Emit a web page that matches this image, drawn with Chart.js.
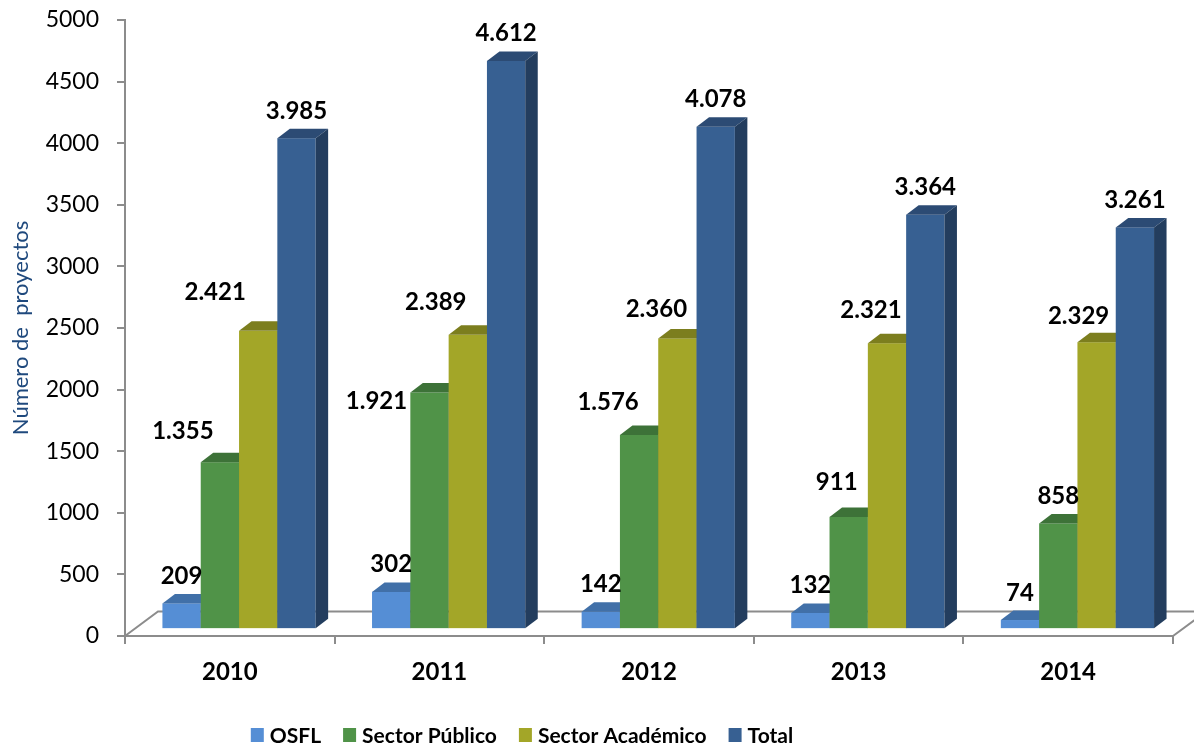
<!DOCTYPE html>
<html><head><meta charset="utf-8">
<script src="https://cdn.jsdelivr.net/npm/chart.js@4/dist/chart.umd.min.js"></script>
<style>html,body{margin:0;padding:0;background:#fff;}#wrap{width:1194px;height:747px;}</style>
</head><body><div id="wrap"><canvas id="c" width="1194" height="747"></canvas></div>
<script>
// ---- data ----
const years = ['2010', '2011', '2012', '2013', '2014'];
const seriesNames = ['OSFL', 'Sector Público', 'Sector Académico', 'Total'];
const osfl = [209, 302, 142, 132, 74];
const sectorPublico = [1355, 1921, 1576, 911, 858];
const sectorAcademico = [2421, 2389, 2360, 2321, 2329];
const total = [3985, 4612, 4078, 3364, 3261];
const yMin = 0, yMax = 5000, yStep = 500;
const axisTitle = 'Número de  proyectos';

// ---- styles ----
const faceColors = [
  { front: '#558ED5', top: '#4170A8', side: '#36598A' },
  { front: '#509348', top: '#3D7238', side: '#31592D' },
  { front: '#A3A628', top: '#7C7E1E', side: '#62641A' },
  { front: '#376092', top: '#2C4B74', side: '#233D5E' }
];
// manual nudges of some value labels (as placed in the original)
const labelNudge = [
  [[0,0],[0,0],[0,0],[0,0],[0,0]],
  [[-37,-4],[-53,36],[-31,-5],[-12,-7],[0,0]],
  [[-43,-11],[-32,-5],[-21,-2],[-16,-6],[-18,1]],
  [[0,0],[0,0],[0,0],[0,0],[0,0]]
];
const FLOOR = { dx: 33, dy: -24.5 };
const BARPOS = 0.28;          // bars sit at this fraction of the floor depth
const BARDEPTH = { dx: 12.5, dy: -9.5 };
const GRAY = '#8C8C8C';
const FONT = 'Lato, "Liberation Sans", sans-serif';

function fmt(v) { return String(v).replace(/\B(?=(\d{3})+(?!\d))/g, '.'); }

const bars3d = {
  id: 'bars3d',
  beforeDatasetsDraw(chart) {
    const { ctx, chartArea: a } = chart;
    ctx.save();
    ctx.strokeStyle = GRAY; ctx.lineWidth = 2;
    ctx.beginPath();
    ctx.moveTo(a.left, a.bottom);
    ctx.lineTo(a.left + FLOOR.dx, a.bottom + FLOOR.dy);
    ctx.lineTo(a.right + FLOOR.dx, a.bottom + FLOOR.dy);
    ctx.lineTo(a.right, a.bottom);
    ctx.stroke();
    ctx.restore();
  },
  beforeDatasetDraw() { return false; },
  afterDatasetsDraw(chart) {
    const ctx = chart.ctx;
    const sx = FLOOR.dx * BARPOS, sy = FLOOR.dy * BARPOS;
    const n = chart.data.labels.length;
    const nd = chart.data.datasets.length;
    ctx.save();
    const labels = [];
    for (let i = 0; i < n; i++) {
      for (let d = 0; d < nd; d++) {
        const el = chart.getDatasetMeta(d).data[i];
        const p = el.getProps(['x', 'y', 'base', 'width'], true);
        const x0 = p.x - p.width / 2 + sx, x1 = p.x + p.width / 2 + sx;
        const yt = p.y + sy, yb = p.base + sy;
        const c = faceColors[d];
        ctx.fillStyle = c.front;
        ctx.fillRect(x0, yt, x1 - x0, yb - yt);
        ctx.fillStyle = c.top;
        ctx.beginPath();
        ctx.moveTo(x0, yt); ctx.lineTo(x1, yt);
        ctx.lineTo(x1 + BARDEPTH.dx, yt + BARDEPTH.dy);
        ctx.lineTo(x0 + BARDEPTH.dx, yt + BARDEPTH.dy);
        ctx.closePath(); ctx.fill();
        ctx.fillStyle = c.side;
        ctx.beginPath();
        ctx.moveTo(x1, yt); ctx.lineTo(x1 + BARDEPTH.dx, yt + BARDEPTH.dy);
        ctx.lineTo(x1 + BARDEPTH.dx, yb + BARDEPTH.dy);
        ctx.lineTo(x1, yb);
        ctx.closePath(); ctx.fill();
        const nud = labelNudge[d][i];
        labels.push({ text: fmt(chart.data.datasets[d].data[i]), x: (x0 + x1) / 2 + nud[0], y: yt - 19.5 + nud[1] });
      }
    }
    ctx.font = 'bold 24px ' + FONT;
    ctx.fillStyle = '#000';
    ctx.textAlign = 'center';
    ctx.textBaseline = 'alphabetic';
    labels.forEach(l => ctx.fillText(l.text, l.x, l.y));
    ctx.restore();
  },
  afterDraw(chart) {
    // legend
    const ctx = chart.ctx;
    ctx.save();
    ctx.font = 'bold 21px ' + FONT;
    const box = 13, gapBT = 6, gapItem = 22;
    const items = chart.data.datasets.map((ds, d) => ({ text: ds.label, color: faceColors[d].front, w: ctx.measureText(ds.label).width }));
    const totalW = items.reduce((s, it) => s + box + gapBT + it.w, 0) + gapItem * (items.length - 1);
    let x = 522 - totalW / 2;
    const yc = 735;
    ctx.textBaseline = 'alphabetic';
    ctx.textAlign = 'left';
    items.forEach(it => {
      ctx.fillStyle = it.color;
      ctx.fillRect(x, yc - 7, box, 14);
      ctx.fillStyle = '#000';
      ctx.fillText(it.text, x + box + gapBT, yc + 7.5);
      x += box + gapBT + it.w + gapItem;
    });
    ctx.restore();
  }
};

const series = [osfl, sectorPublico, sectorAcademico, total];
new Chart(document.getElementById('c'), {
  type: 'bar',
  data: {
    labels: years,
    datasets: series.map((s, d) => ({ label: seriesNames[d], data: s, backgroundColor: faceColors[d].front }))
  },
  options: {
    responsive: false,
    animation: false,
    devicePixelRatio: 1,
    layout: { padding: { top: 20, right: 21, bottom: 51, left: 0 } },
    datasets: { bar: { barPercentage: 1, categoryPercentage: 0.731 } },
    plugins: { legend: { display: false }, tooltip: { enabled: false } },
    scales: {
      x: {
        ticks: { font: { family: FONT, size: 24, weight: 'bold' }, color: '#000', padding: 14 },
        grid: { display: true, drawOnChartArea: false, drawTicks: true, tickLength: 8, color: GRAY, lineWidth: 2, offset: true },
        border: { display: true, color: GRAY, width: 2 },
        afterFit(s) { s.height = 60; }
      },
      y: {
        min: yMin, max: yMax,
        ticks: { stepSize: yStep, font: { family: FONT, size: 23 }, color: '#000', padding: 18, callback: v => String(v) },
        grid: { display: true, drawOnChartArea: false, drawTicks: true, tickLength: 8, color: GRAY, lineWidth: 2 },
        border: { display: true, color: GRAY, width: 2 },
        title: { display: true, text: axisTitle, color: '#1F497D', font: { family: FONT, size: 22 }, padding: { top: 8, bottom: 0 } },
        afterFit(s) { s.width = 125; s.paddingTop = 0; s.paddingBottom = 0; }
      }
    }
  },
  plugins: [bars3d]
});
</script>
</body></html>
